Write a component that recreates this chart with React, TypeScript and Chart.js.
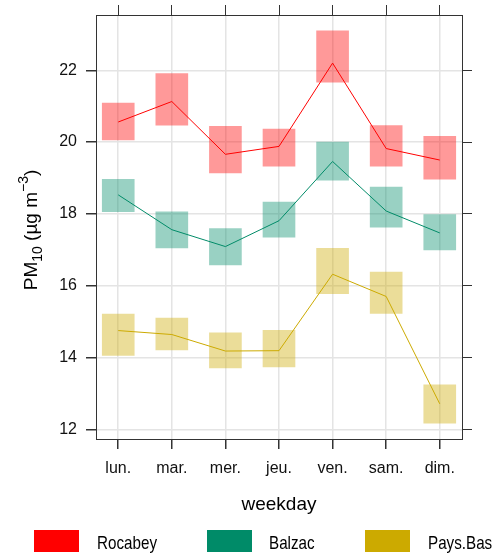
import React, { useEffect, useRef } from "react";
import { Chart, registerables } from "chart.js";

Chart.register(...registerables);

const weekdays = ["lun.", "mar.", "mer.", "jeu.", "ven.", "sam.", "dim."];
const yTicks = [12, 14, 16, 18, 20, 22];

const rocabeyMean = [20.56, 21.13, 19.66, 19.88, 22.2, 19.82, 19.5];
const rocabeyLow = [20.06, 20.47, 19.14, 19.33, 21.67, 19.33, 18.97];
const rocabeyHigh = [21.09, 21.91, 20.44, 20.36, 23.1, 20.46, 20.16];

const balzacMean = [18.53, 17.56, 17.09, 17.81, 19.46, 18.08, 17.47];
const balzacLow = [18.06, 17.05, 16.58, 17.35, 18.94, 17.63, 17.0];
const balzacHigh = [18.96, 18.06, 17.59, 18.33, 20.0, 18.75, 17.98];

const paysBasMean = [14.75, 14.64, 14.18, 14.19, 16.32, 15.7, 12.71];
const paysBasLow = [14.06, 14.21, 13.71, 13.74, 15.78, 15.23, 12.17];
const paysBasHigh = [15.21, 15.1, 14.69, 14.76, 17.04, 16.38, 13.24];

const seriesNames = ["Rocabey", "Balzac", "Pays.Bas"];
const seriesColors = ["#FF0000", "#008B68", "#CCAA00"];
const seriesFills = ["rgba(255,0,0,0.4)", "rgba(0,139,104,0.4)", "rgba(204,170,0,0.4)"];

const SANS = "'Liberation Sans', Arial, sans-serif";

export default function App() {
  const ref = useRef<HTMLCanvasElement | null>(null);

  useEffect(() => {
    const canvas = ref.current;
    if (!canvas) return;

    const means = [rocabeyMean, balzacMean, paysBasMean];
    const lows = [rocabeyLow, balzacLow, paysBasLow];
    const highs = [rocabeyHigh, balzacHigh, paysBasHigh];

    const barSets = means.map((_, s) => ({
      type: "bar" as const,
      label: seriesNames[s] + " CI",
      data: weekdays.map((_, i) => ({ x: i, y: [lows[s][i], highs[s][i]] })),
      backgroundColor: seriesFills[s],
      borderWidth: 0,
      barThickness: 32,
      grouped: false,
      order: 2,
      xAxisID: "x",
      yAxisID: "y",
    }));
    const lineSets = means.map((m, s) => ({
      type: "line" as const,
      label: seriesNames[s],
      data: weekdays.map((_, i) => ({ x: i, y: m[i] })),
      borderColor: seriesColors[s],
      backgroundColor: seriesColors[s],
      borderWidth: 1,
      pointRadius: 0,
      fill: false,
      tension: 0,
      order: 0,
      xAxisID: "x",
      yAxisID: "y",
    }));

    const xMin = -0.415;
    const xMax = weekdays.length - 1 + 0.415;
    const yMin = 11.73;
    const yMax = 23.54;
    const frame = "#333333";
    const gridC = "#e4e4e4";

    const catTicks = (scale: any) => {
      scale.ticks = weekdays.map((_, i) => ({ value: i }));
    };
    const valTicks = (scale: any) => {
      scale.ticks = yTicks.map((v) => ({ value: v }));
    };
    const noPad = (s: any) => {
      s.paddingLeft = 0;
      s.paddingRight = 0;
      s.paddingTop = 0;
      s.paddingBottom = 0;
    };

    const overlay = {
      id: "overlay",
      afterDraw(chart: any) {
        const ctx = chart.ctx;
        const area = chart.chartArea;
        ctx.save();
        // x axis title
        ctx.fillStyle = "#000";
        ctx.font = `19px ${SANS}`;
        ctx.textAlign = "center";
        ctx.textBaseline = "alphabetic";
        ctx.fillText("weekday", (area.left + area.right) / 2, 510);

        // y axis title with sub/superscripts
        const parts = [
          { t: "PM", size: 19, dy: 0 },
          { t: "10", size: 14, dy: 5 },
          { t: " (µg m", size: 19, dy: 0 },
          { t: "−3", size: 14, dy: -9 },
          { t: ")", size: 19, dy: 0 },
        ];
        let total = 0;
        const widths = parts.map((p) => {
          ctx.font = `${p.size}px ${SANS}`;
          const w = ctx.measureText(p.t).width;
          total += w;
          return w;
        });
        ctx.save();
        ctx.translate(37, (area.top + area.bottom) / 2 + 3);
        ctx.rotate(-Math.PI / 2);
        ctx.textAlign = "left";
        let cx = -total / 2;
        parts.forEach((p, i) => {
          ctx.font = `${p.size}px ${SANS}`;
          ctx.fillText(p.t, cx, p.dy);
          cx += widths[i];
        });
        ctx.restore();

        // legend
        const boxX = [34, 207, 365];
        const textX = [97, 269, 428];
        seriesNames.forEach((n, i) => {
          ctx.fillStyle = seriesColors[i];
          ctx.fillRect(boxX[i], 530, 45, 22);
          ctx.save();
          ctx.translate(textX[i], 549);
          ctx.scale(0.8, 1);
          ctx.fillStyle = "#000";
          ctx.font = `19px ${SANS}`;
          ctx.textAlign = "left";
          ctx.fillText(n, 0, 0);
          ctx.restore();
        });
        ctx.restore();
      },
    };

    const chart = new Chart(canvas, {
      type: "bar",
      data: { datasets: [...lineSets, ...barSets] as any },
      options: {
        animation: false,
        responsive: false,
        maintainAspectRatio: false,
        layout: { padding: 0 },
        plugins: { legend: { display: false }, tooltip: { enabled: false } },
        scales: {
          x: {
            type: "linear",
            position: "bottom",
            offset: false,
            min: xMin,
            max: xMax,
            afterBuildTicks: catTicks,
            afterFit: (s: any) => {
              s.height = 115;
              noPad(s);
            },
            ticks: {
              callback: (v: any) => weekdays[Math.round(Number(v))] ?? "",
              color: "#111",
              font: { family: SANS, size: 16 },
              padding: 10,
              autoSkip: false,
              maxRotation: 0,
            },
            grid: { offset: false, color: gridC, lineWidth: 1.5, tickColor: frame, tickLength: 10, drawTicks: true },
            border: { display: true, color: frame, width: 1 },
          },
          xTop: {
            type: "linear",
            position: "top",
            offset: false,
            min: xMin,
            max: xMax,
            afterBuildTicks: catTicks,
            afterFit: (s: any) => {
              s.height = 15;
              noPad(s);
            },
            ticks: { display: false },
            grid: { offset: false, drawOnChartArea: false, tickColor: frame, tickLength: 10, drawTicks: true },
            border: { display: true, color: frame, width: 1 },
          },
          y: {
            type: "linear",
            position: "left",
            min: yMin,
            max: yMax,
            afterBuildTicks: valTicks,
            afterFit: (s: any) => {
              s.width = 96;
              noPad(s);
            },
            ticks: {
              color: "#111",
              font: { family: SANS, size: 16 },
              padding: 9,
              callback: (v: any) => String(v),
            },
            grid: { color: gridC, lineWidth: 1.5, tickColor: frame, tickLength: 10, drawTicks: true },
            border: { display: true, color: frame, width: 1 },
          },
          yRight: {
            type: "linear",
            position: "right",
            min: yMin,
            max: yMax,
            afterBuildTicks: valTicks,
            afterFit: (s: any) => {
              s.width = 39;
              noPad(s);
            },
            ticks: { display: false },
            grid: { drawOnChartArea: false, tickColor: frame, tickLength: 10, drawTicks: true },
            border: { display: true, color: frame, width: 1 },
          },
        },
      } as any,
      plugins: [overlay],
    });
    return () => chart.destroy();
  }, []);

  return (
    <div style={{ position: "fixed", left: 0, top: 0, width: 501, height: 554, background: "#fff" }}>
      <canvas ref={ref} width={501} height={554} style={{ display: "block" }} />
    </div>
  );
}
